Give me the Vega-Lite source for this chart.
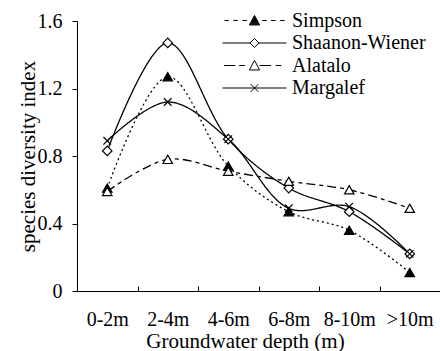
{
  "$schema": "https://vega.github.io/schema/vega-lite/v6.json",
  "width": 363,
  "height": 270,
  "autosize": "none",
  "padding": {"left": 77, "top": 21, "right": 0, "bottom": 60},
  "background": "white",
  "config": {
    "view": {"stroke": null},
    "font": "Liberation Serif",
    "axis": {"grid": false, "domainColor": "black", "tickColor": "black", "labelColor": "black", "titleColor": "black", "labelFont": "Liberation Serif", "titleFont": "Liberation Serif", "labelFontSize": 20, "titleFontSize": 21, "titleFontWeight": "normal", "domainWidth": 1, "tickWidth": 1}
  },
  "data": {"values": [
    {"depth": "0-2m", "index": "Simpson", "value": 0.61},
    {"depth": "2-4m", "index": "Simpson", "value": 1.27},
    {"depth": "4-6m", "index": "Simpson", "value": 0.74},
    {"depth": "6-8m", "index": "Simpson", "value": 0.47},
    {"depth": "8-10m", "index": "Simpson", "value": 0.36},
    {"depth": ">10m", "index": "Simpson", "value": 0.11},
    {"depth": "0-2m", "index": "Shaanon-Wiener", "value": 0.83},
    {"depth": "2-4m", "index": "Shaanon-Wiener", "value": 1.47},
    {"depth": "4-6m", "index": "Shaanon-Wiener", "value": 0.90},
    {"depth": "6-8m", "index": "Shaanon-Wiener", "value": 0.61},
    {"depth": "8-10m", "index": "Shaanon-Wiener", "value": 0.47},
    {"depth": ">10m", "index": "Shaanon-Wiener", "value": 0.22},
    {"depth": "0-2m", "index": "Alatalo", "value": 0.59},
    {"depth": "2-4m", "index": "Alatalo", "value": 0.78},
    {"depth": "4-6m", "index": "Alatalo", "value": 0.71},
    {"depth": "6-8m", "index": "Alatalo", "value": 0.65},
    {"depth": "8-10m", "index": "Alatalo", "value": 0.60},
    {"depth": ">10m", "index": "Alatalo", "value": 0.49},
    {"depth": "0-2m", "index": "Margalef", "value": 0.89},
    {"depth": "2-4m", "index": "Margalef", "value": 1.12},
    {"depth": "4-6m", "index": "Margalef", "value": 0.90},
    {"depth": "6-8m", "index": "Margalef", "value": 0.49},
    {"depth": "8-10m", "index": "Margalef", "value": 0.50},
    {"depth": ">10m", "index": "Margalef", "value": 0.22}
  ]},
  "encoding": {
    "x": {"field": "depth", "type": "nominal", "sort": null,
      "scale": {"type": "band", "domain": ["0-2m", "2-4m", "4-6m", "6-8m", "8-10m", ">10m"], "paddingInner": 0, "paddingOuter": 0},
      "axis": {"title": "Groundwater depth (m)", "labelAngle": 0, "tickBand": "extent", "tickSize": -5, "labelPadding": 23, "titleX": 168, "titlePadding": 1}},
    "y": {"field": "value", "type": "quantitative",
      "scale": {"domain": [0, 1.6], "nice": false},
      "axis": {"title": "species diversity index", "values": [0, 0.4, 0.8, 1.2, 1.6], "format": ".1~f", "tickSize": 5, "labelPadding": 10, "titlePadding": -1}}
  },
  "layer": [
    {
      "mark": {"type": "line", "interpolate": "catmull-rom", "color": "black", "strokeWidth": 1.3},
      "encoding": {
        "detail": {"field": "index"},
        "strokeDash": {"field": "index", "type": "nominal", "legend": null,
          "scale": {"domain": ["Simpson", "Shaanon-Wiener", "Alatalo", "Margalef"], "range": [[2, 3], [1, 0], [9, 4, 4, 4], [1, 0]]}}
      }
    },
    {
      "mark": {"type": "point", "filled": true, "stroke": "black", "strokeWidth": 1.2, "size": 90, "opacity": 1},
      "encoding": {
        "shape": {"field": "index", "type": "nominal", "legend": null,
          "scale": {"domain": ["Simpson", "Shaanon-Wiener", "Alatalo", "Margalef"], "range": ["triangle-up", "diamond", "triangle-up", "M-0.8,-0.8L0.8,0.8M-0.8,0.8L0.8,-0.8"]}},
        "fill": {"field": "index", "type": "nominal", "legend": null,
          "scale": {"domain": ["Simpson", "Shaanon-Wiener", "Alatalo", "Margalef"], "range": ["black", "white", "white", "white"]}}
      }
    },
    {
      "transform": [{"filter": "false"}],
      "mark": {"type": "point", "filled": false, "color": "black", "strokeWidth": 1, "opacity": 1},
      "encoding": {
        "shape": {"field": "index", "type": "nominal",
          "scale": {"domain": ["Simpson", "Shaanon-Wiener", "Alatalo", "Margalef"], "range": [
            "M-0.94,0H-0.8M-0.66,0H-0.52M-0.38,0H-0.24M0.24,0H0.38M0.52,0H0.66M0.8,0H0.94M-0.16,0.14L0,-0.16L0.16,0.14ZM-0.021,-0.12H0.021M-0.037,-0.09H0.037M-0.053,-0.06H0.053M-0.069,-0.03H0.069M-0.085,0H0.085M-0.101,0.03H0.101M-0.117,0.06H0.117M-0.133,0.09H0.133M-0.149,0.12H0.149",
            "M-1,0H-0.14M0.14,0H1M0,-0.14L0.14,0L0,0.14L-0.14,0Z",
            "M-0.95,0H-0.6M-0.48,0H-0.3M-0.16,0.14L0,-0.16L0.16,0.14ZM0.16,0H0.52M0.66,0H0.84",
            "M-1,0H1M-0.12,-0.12L0.12,0.12M-0.12,0.12L0.12,-0.12"
          ]},
          "legend": {"title": null, "orient": "none", "legendX": 145, "legendY": -10, "padding": 0, "symbolSize": 4096, "symbolStrokeWidth": 1, "symbolStrokeColor": "black", "symbolOpacity": 1, "clipHeight": 19, "labelFont": "Liberation Serif", "labelFontSize": 20, "labelColor": "black", "labelOffset": 5, "rowPadding": 1.5, "labelLimit": 300}}
      }
    }
  ],
  "resolve": {"scale": {"shape": "independent"}, "legend": {"shape": "independent"}}
}
